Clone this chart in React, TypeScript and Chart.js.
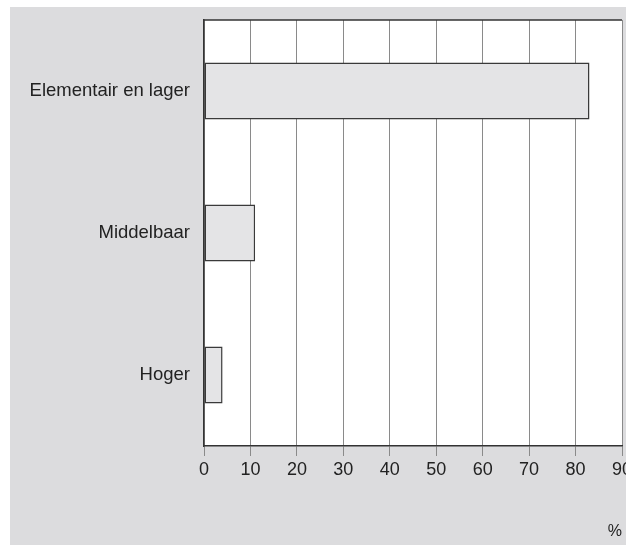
import React, { useEffect, useRef } from "react";
import { Chart, registerables } from "chart.js";

Chart.register(...registerables);

const categories = ["Elementair en lager", "Middelbaar", "Hoger"];
const values = [83, 11, 4];
const xTicksMin = 0;
const xTicksMax = 90;
const xStep = 10;
const unitLabel = "%";

const FONT = "'Liberation Sans', Arial, Helvetica, sans-serif";

const bgPlugin = {
  id: "bgPlugin",
  beforeDraw(chart: any) {
    const { ctx, chartArea, width, height } = chart;
    ctx.save();
    ctx.fillStyle = "#ffffff";
    ctx.fillRect(0, 0, width, height);
    ctx.fillStyle = "#dcdcde";
    ctx.fillRect(10, 7, width - 10, height - 7);
    ctx.fillStyle = "#ffffff";
    ctx.fillRect(chartArea.left, chartArea.top, chartArea.right - chartArea.left, chartArea.bottom - chartArea.top);
    ctx.restore();
  },
  afterDraw(chart: any) {
    const { ctx, chartArea } = chart;
    ctx.save();
    ctx.strokeStyle = "#333333";
    ctx.lineWidth = 1.5;
    ctx.beginPath();
    ctx.moveTo(chartArea.left, chartArea.top);
    ctx.lineTo(chartArea.right, chartArea.top);
    ctx.stroke();
    ctx.restore();
  },
};

export default function App() {
  const ref = useRef<HTMLCanvasElement | null>(null);
  useEffect(() => {
    document.body.style.margin = "0";
    const canvas = ref.current;
    if (!canvas) return;
    const chart = new Chart(canvas, {
      type: "bar",
      data: {
        labels: categories,
        datasets: [
          {
            data: values,
            backgroundColor: "#e4e4e6",
            borderColor: "#3a3a3a",
            borderWidth: 1.5,
            borderSkipped: false,
            barPercentage: 0.4,
            categoryPercentage: 1,
          },
        ],
      },
      options: {
        indexAxis: "y",
        animation: false,
        responsive: false,
        maintainAspectRatio: false,
        layout: { padding: { top: 20, right: 4, left: 0, bottom: 0 } },
        plugins: { legend: { display: false }, tooltip: { enabled: false } },
        scales: {
          x: {
            type: "linear",
            min: xTicksMin,
            max: xTicksMax,
            ticks: {
              stepSize: xStep,
              font: { family: FONT, size: 18 },
              color: "#222222",
              padding: 3,
            },
            grid: {
              color: "#8a8a8a",
              lineWidth: 1,
              tickLength: 10,
              drawTicks: true,
            },
            border: { display: true, color: "#333333", width: 1.5 },
            title: {
              display: true,
              text: unitLabel,
              align: "end",
              font: { family: FONT, size: 16 },
              color: "#222222",
              padding: { top: 0, bottom: 4 },
            },
            afterFit(scale: any) {
              scale.height = 99;
              scale.paddingRight = 0;
              scale.paddingLeft = 0;
            },
          },
          y: {
            type: "category",
            grid: { display: false, drawTicks: false },
            border: { display: true, color: "#333333", width: 1.5 },
            ticks: {
              font: { family: FONT, size: 18.5 },
              color: "#222222",
              padding: 14,
            },
            afterFit(scale: any) {
              scale.width = 204;
              scale.paddingTop = 0;
              scale.paddingBottom = 0;
            },
          },
        },
      },
      plugins: [bgPlugin],
    } as any);
    return () => chart.destroy();
  }, []);
  return (
    <div style={{ width: 626, height: 545 }}>
      <canvas ref={ref} width={626} height={545} style={{ display: "block" }} />
    </div>
  );
}
